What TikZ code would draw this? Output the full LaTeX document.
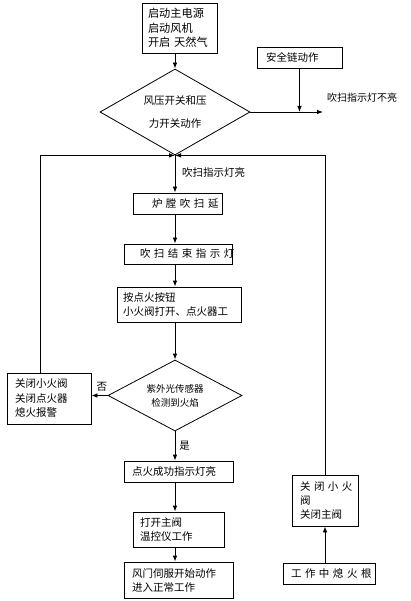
\documentclass[tikz,border=0pt]{standalone}
\usepackage{fontspec}
\newfontfamily\cjk{Noto Sans CJK SC}
\usetikzlibrary{shapes.geometric,arrows.meta}
\begin{document}
\begin{tikzpicture}[x=1pt,y=-1pt,
  every node/.style={font=\cjk\fontsize{10.5}{14}\selectfont},
  box/.style={draw, line width=0.8pt, align=left, inner ysep=0pt},
  dec/.style={draw, diamond, line width=0.8pt, inner sep=0pt, align=center},
  arr/.style={-{Latex[length=6pt,width=4.5pt]}, line width=0.8pt},
  lbl/.style={inner sep=0pt}]
\useasboundingbox[fill=white] (0,0) rectangle (410,601);
% nodes
\node[box, inner xsep=6pt, text width=63pt, minimum height=50pt, font=\cjk\fontsize{11.2}{14.5}\selectfont] (start) at (179.5,28) {启动主电源\\启动风机\\开启~天然气};
\node[dec, shape aspect=1.74, minimum width=150pt, minimum height=86pt] (d1) at (175,112) {风压开关和压\\[9pt]力开关动作};
\node[box, inner xsep=9pt, text width=67pt, minimum height=21pt] (safe) at (299.5,57.5) {安全链动作};
\coordinate (noend) at (323,112);
\node[lbl, anchor=west, font=\cjk\fontsize{10}{14}\selectfont] (notxt) at (327,98) {吹扫指示灯不亮};
\node[lbl, anchor=west] (yestxt) at (182,172) {吹扫指示灯亮};
\node[box, inner xsep=4pt, text width=81pt, minimum height=21pt] (purge) at (177.5,203.5) {\hspace*{15pt}炉~膛~吹~扫~延};
\node[box, inner xsep=4pt, text width=100pt, minimum height=20pt] (endp) at (178,254) {\hspace*{12pt}吹~扫~结~束~指~示~灯};
\node[box, inner xsep=6pt, text width=112pt, minimum height=35pt] (ign) at (179,304.5) {按点火按钮\\小火阀打开、点火器工};
\node[dec, shape aspect=1.89, minimum width=134pt, minimum height=71pt, font=\cjk\fontsize{9.5}{14}\selectfont] (d2) at (175,395.5) {紫外光传感器\\检测到火焰};
\node[box, inner xsep=8pt, text width=68pt, minimum height=51pt, font=\cjk\fontsize{10.5}{14.5}\selectfont] (lbox) at (49,398.5) {关闭小火阀\\关闭点火器\\熄火报警};
\node[box, inner xsep=8pt, text width=93pt, minimum height=21pt] (ok) at (178.5,471.5) {点火成功指示灯亮};
\node[box, inner xsep=7pt, text width=77pt, minimum height=35pt] (main) at (178.5,529.5) {打开主阀\\温控仪工作};
\node[box, inner xsep=8pt, text width=93pt, minimum height=36pt] (run) at (178.5,580) {风门伺服开始动作\\进入正常工作};
\node[box, inner xsep=8pt, text width=50pt, minimum height=51pt, font=\cjk\fontsize{10.5}{14}\selectfont] (rbox) at (325,500.5) {关~闭~小~火\\阀\\关闭主阀};
\node[box, inner xsep=8pt, text width=76pt, minimum height=21pt, align=center] (fail) at (329,573.5) {工~作~中~熄~火~根};
\coordinate (lt) at (40,155);
% connectors
\draw[arr] (start.south -| d1.north) -- (d1.north);
\draw[arr] (d1.east) -- (noend);
\draw[arr] (safe.south) -- (safe.south |- noend);
\draw[arr] (d1.south) -- (d1.south |- purge.north);
\draw[arr] (purge.south -| d1.south) -- (d1.south |- endp.north);
\draw[arr] (endp.south -| d1.south) -- (d1.south |- ign.north);
\draw[arr] (ign.south -| d2.north) -- (d2.north);
\draw[arr] (d2.west) -- (d2.west -| lbox.east) node[lbl, pos=0.35, above=4pt] (no) {否};
\draw[arr] (d2.south) -- (d2.south |- ok.north) node[lbl, pos=0.5, right=4pt] (yes) {是};
\draw[arr] (ok.south -| d2.south) -- (d2.south |- main.north);
\draw[arr] (main.south -| d2.south) -- (d2.south |- run.north);
\draw[arr] (lbox.north -| lt) -- (lt |- d1.south) -- (d1.south);
\draw[arr] (rbox.north) -- (rbox.north |- d1.south) -- (d1.south);
\draw[arr] (fail.north -| rbox.south) -- (rbox.south);
\end{tikzpicture}
\end{document}
